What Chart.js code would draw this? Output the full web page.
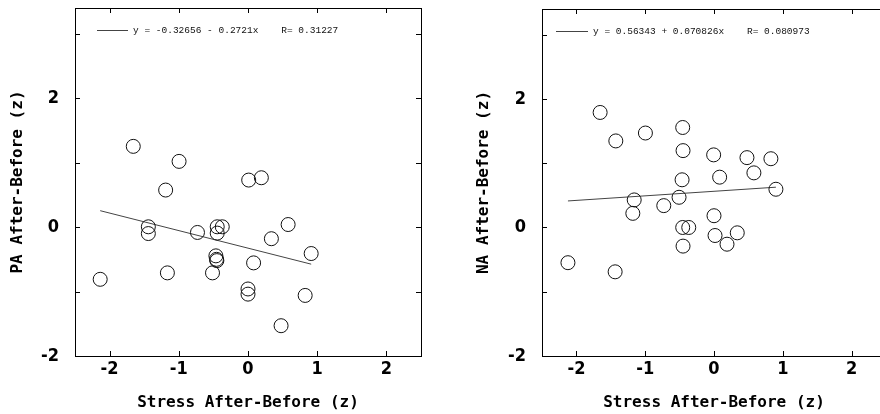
<!DOCTYPE html>
<html>
<head>
<meta charset="utf-8">
<script src="https://cdn.jsdelivr.net/npm/chart.js@4.4.1/dist/chart.umd.min.js"></script>
<style>
  html, body { margin: 0; padding: 0; background: #fff; overflow: hidden; width: 880px; height: 414px; }
  #paChart { position: absolute; left: 0; top: 0; }
  #naChart { position: absolute; left: 440px; top: 0; }
</style>
</head>
<body>
<canvas id="paChart" width="440" height="414"></canvas>
<canvas id="naChart" width="460" height="414"></canvas>
<script>
// DATA
const paStress = [-1.658, -0.996, -1.19, 0.01, 0.193, -1.44, -1.44, -0.73, -0.445, -0.372, -0.445, 0.58, 0.338, 0.913, -0.464, -0.455, -0.45, 0.081, -2.136, -1.165, -0.513, 0.0, 0.0, 0.826, 0.478];
const paValues = [1.253, 1.02, 0.575, 0.73, 0.766, 0.005, -0.10, -0.083, 0.005, 0.005, -0.093, 0.04, -0.18, -0.41, -0.446, -0.50, -0.52, -0.555, -0.81, -0.71, -0.71, -0.96, -1.04, -1.06, -1.53];
const paFitX = [-2.136, 0.913];
const paFitY = [0.255, -0.575];
const paLegend = "y = -0.32656 - 0.2721x    R= 0.31227";

const naStress = [-1.655, -1.427, -0.997, -0.455, -0.45, -0.005, 0.479, 0.827, 0.58, 0.082, -0.464, 0.9, -1.16, -0.508, -0.73, -1.18, 0.0, -0.455, -0.367, 0.015, 0.338, 0.189, -0.45, -2.123, -1.437];
const naValues = [1.79, 1.347, 1.47, 1.556, 1.196, 1.13, 1.087, 1.07, 0.85, 0.783, 0.742, 0.595, 0.429, 0.47, 0.34, 0.22, 0.183, 0.0, 0.0, -0.125, -0.083, -0.26, -0.29, -0.548, -0.69];
const naFitX = [-2.123, 0.9];
const naFitY = [0.413, 0.627];
const naLegend = "y = 0.56343 + 0.070826x    R= 0.080973";

const xTicks = [-2, -1, 0, 1, 2];
const yTicks = [-2, -1, 0, 1, 2, 3];
const yLabelled = [-2, 0, 2];
const xTitle = "Stress After-Before (z)";

// frame, inside ticks and the fit legend
const framePlugin = {
  id: "frame",
  afterDraw(chart) {
    const ctx = chart.ctx;
    const a = chart.chartArea;
    const o = chart.options.plugins.frame;
    ctx.save();
    ctx.strokeStyle = "#000";
    ctx.lineWidth = 1;
    ctx.strokeRect(a.left + 0.5, a.top + 0.5, a.right - a.left, a.bottom - a.top);
    const tl = 5;
    ctx.beginPath();
    chart.scales.x.ticks.forEach(t => {
      if (t.value <= chart.scales.x.min || t.value >= chart.scales.x.max) return;
      const px = Math.round(chart.scales.x.getPixelForValue(t.value)) + 0.5;
      ctx.moveTo(px, a.bottom); ctx.lineTo(px, a.bottom - tl);
      ctx.moveTo(px, a.top); ctx.lineTo(px, a.top + tl);
    });
    chart.scales.y.ticks.forEach(t => {
      if (t.value <= chart.scales.y.min || t.value >= chart.scales.y.max) return;
      const py = Math.round(chart.scales.y.getPixelForValue(t.value)) + 0.5;
      ctx.moveTo(a.left, py); ctx.lineTo(a.left + tl, py);
      ctx.moveTo(a.right, py); ctx.lineTo(a.right - tl, py);
    });
    ctx.stroke();

    // legend
    ctx.strokeStyle = "#444";
    ctx.beginPath();
    ctx.moveTo(a.left + o.lineStart, o.y + 0.5);
    ctx.lineTo(a.left + o.lineEnd, o.y + 0.5);
    ctx.stroke();
    ctx.fillStyle = "#111";
    ctx.font = "9.5px 'Liberation Mono', monospace";
    ctx.textBaseline = "middle";
    ctx.fillText(o.text, a.left + o.textStart, o.y);
    ctx.restore();
  }
};

const tickFont = { family: "'DejaVu Sans Condensed', 'DejaVu Sans'", size: 18, weight: "bold" };
const titleFont = { family: "'DejaVu Sans Mono', monospace", size: 16, weight: "bold" };

function makeChart(id, xs, ys, fitX, fitY, yTitle, legend, yWidth, rightPad, topPad, titlePad) {
  const points = xs.map((x, i) => ({x: x, y: ys[i]}));
  const fit = fitX.map((x, i) => ({x: x, y: fitY[i]}));
  return new Chart(document.getElementById(id), {
    type: "scatter",
    data: {
      datasets: [
        {
          data: points,
          pointStyle: "circle",
          pointRadius: 7,
          pointBorderWidth: 1,
          pointBorderColor: "#111",
          pointBackgroundColor: "rgba(0,0,0,0)",
          showLine: false
        },
        {
          data: fit,
          type: "line",
          showLine: true,
          borderColor: "#444",
          borderWidth: 1,
          pointRadius: 0,
          fill: false
        }
      ]
    },
    options: {
      responsive: false,
      animation: false,
      devicePixelRatio: 1,
      layout: { padding: { left: 0, right: rightPad, top: topPad, bottom: 0 } },
      plugins: {
        legend: { display: false },
        tooltip: { enabled: false },
        frame: legend
      },
      scales: {
        x: {
          type: "linear",
          min: -2.5, max: 2.5,
          grid: { display: false },
          border: { display: false },
          afterBuildTicks: s => { s.ticks = xTicks.map(v => ({value: v})); },
          ticks: {
            autoSkip: false,
            maxRotation: 0,
            padding: -5,
            color: "#000",
            font: tickFont,
            callback: v => String(v)
          },
          title: {
            display: true,
            text: xTitle,
            color: "#000",
            font: titleFont,
            padding: { top: 0, bottom: 2 }
          },
          afterFit: s => { s.height = 58; s.paddingLeft = 0; s.paddingRight = 0; }
        },
        y: {
          type: "linear",
          min: -2, max: 3.4,
          grid: { display: false },
          border: { display: false },
          afterBuildTicks: s => { s.ticks = yTicks.map(v => ({value: v})); },
          ticks: {
            autoSkip: false,
            padding: 8,
            color: "#000",
            font: tickFont,
            callback: v => yLabelled.includes(v) ? String(v) : ""
          },
          title: {
            display: true,
            text: yTitle,
            color: "#000",
            font: titleFont,
            padding: { top: titlePad, bottom: 0 }
          },
          afterFit: s => { s.width = yWidth; s.paddingTop = 0; s.paddingBottom = 0; }
        }
      }
    },
    plugins: [framePlugin]
  });
}

makeChart("paChart", paStress, paValues, paFitX, paFitY, "PA After-Before (z)",
  { y: 30, lineStart: 22, lineEnd: 53, textStart: 58, text: paLegend }, 75, 19, 8, 8);
makeChart("naChart", naStress, naValues, naFitX, naFitY, "NA After-Before (z)",
  { y: 31, lineStart: 14, lineEnd: 46, textStart: 51, text: naLegend }, 102, 14, 9, 34);
</script>
</body>
</html>
